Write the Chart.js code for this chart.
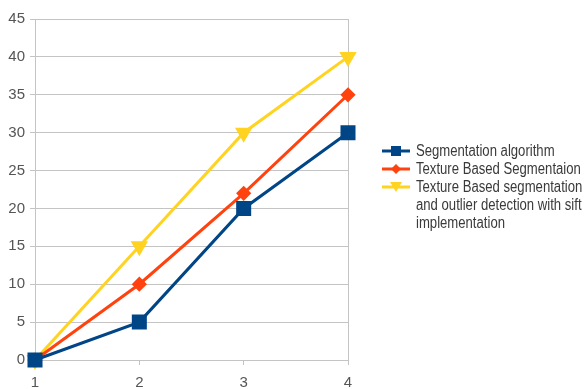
<!DOCTYPE html>
<html>
<head>
<meta charset="utf-8">
<script src="https://cdn.jsdelivr.net/npm/chart.js@4"></script>
<style>
  html, body { margin: 0; padding: 0; background: #fff; overflow: hidden; }
  #wrap { position: relative; width: 586px; height: 389px; overflow: hidden; }
  #legend {
    position: absolute; left: 382px; top: 142px; width: 260px;
    font-family: "Liberation Sans", Arial, sans-serif;
    font-size: 16px; color: #3a3a3a; line-height: 18px; white-space: nowrap;
  }
  .row { display: flex; align-items: flex-start; }
  .row svg { flex: none; margin-top: 1px; }
  .row span { margin-left: 6px; display: inline-block; transform: scaleX(0.82); transform-origin: 0 0; }
</style>
</head>
<body>
<div id="wrap">
  <canvas id="chart" width="586" height="389"></canvas>
  <div id="legend"></div>
</div>
<script>
const categories = ['1', '2', '3', '4'];
const seriesNames = [
    'Segmentation algorithm',
    'Texture Based Segmentaion',
    'Texture Based segmentation\nand outlier detection with sift\nimplementation'
];
const segmentation = [0, 5, 20, 30];
const textureBased = [0, 10, 22, 35];
const textureSift = [0, 15, 30, 40];
const colors = ['#004586', '#ff420e', '#ffd320'];

const gridGray = '#c4c4c4';
const font = { family: '"Liberation Sans", Arial, sans-serif', size: 15 };

new Chart(document.getElementById('chart'), {
    type: 'line',
    data: {
        labels: categories,
        datasets: [
            { label: seriesNames[0], data: segmentation, borderColor: colors[0], backgroundColor: colors[0],
              pointStyle: 'rect', pointRadius: 8.5, borderWidth: 3, clip: false },
            { label: seriesNames[1], data: textureBased, borderColor: colors[1], backgroundColor: colors[1],
              pointStyle: 'rectRot', pointRadius: 5.5, borderWidth: 3, clip: false },
            { label: seriesNames[2], data: textureSift, borderColor: colors[2], backgroundColor: colors[2],
              pointStyle: 'triangle', pointRotation: 180, pointRadius: 7, borderWidth: 3, clip: false }
        ]
    },
    options: {
        responsive: false,
        animation: false,
        layout: { padding: { top: 19, right: 238, left: 0, bottom: 0 } },
        scales: {
            x: {
                offset: false,
                grid: {
                    color: ctx => (ctx.index === 0 || ctx.index === 3) ? gridGray : 'transparent',
                    tickColor: gridGray, tickLength: 5
                },
                border: { color: gridGray },
                ticks: { color: '#555', font: font, padding: 9 },
                afterFit: s => { s.height = 29; }
            },
            y: {
                min: 0, max: 45,
                grid: { color: gridGray, tickColor: gridGray, tickLength: 5 },
                border: { color: gridGray },
                ticks: { stepSize: 5, color: '#555', font: font, padding: 5 },
                afterFit: s => { s.width = 35; }
            }
        },
        plugins: { legend: { display: false }, tooltip: { enabled: false } }
    }
});

// html legend
const markers = [
    '<rect x="9" y="3" width="10" height="10"/>',
    '<polygon points="14,3 19,8 14,13 9,8"/>',
    '<polygon points="8,3 20,3 14,13"/>'
];
document.getElementById('legend').innerHTML = seriesNames.map((name, i) =>
    '<div class="row"><svg width="28" height="16"><line x1="0" y1="8" x2="28" y2="8" stroke="' + colors[i] +
    '" stroke-width="3"/><g fill="' + colors[i] + '">' + markers[i] + '</g></svg><span>' +
    name.split('\n').join('<br>') + '</span></div>'
).join('');
</script>
</body>
</html>
